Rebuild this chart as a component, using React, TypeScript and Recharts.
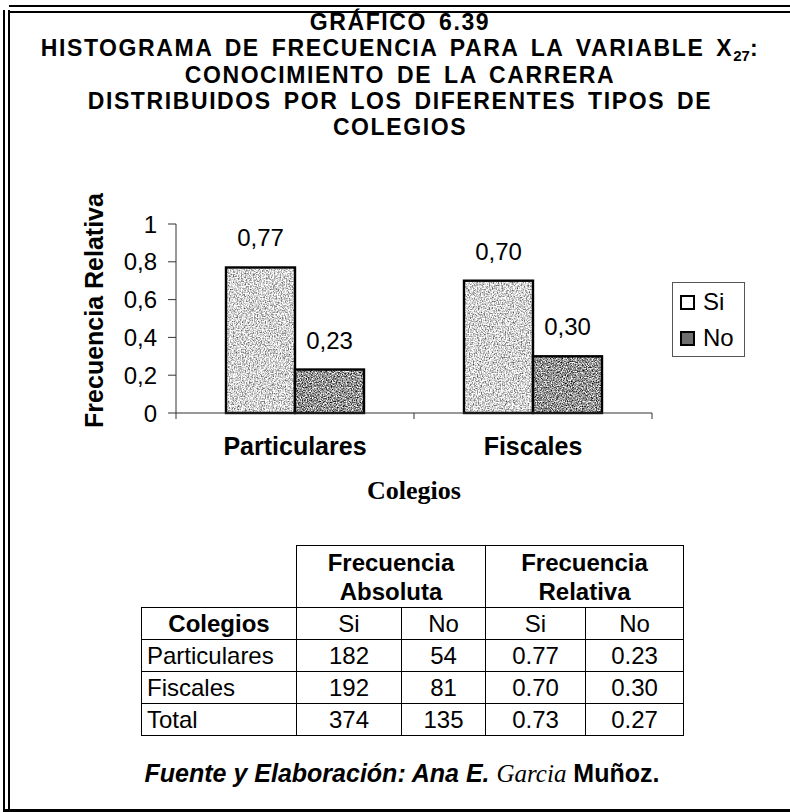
import React from 'react';
import { BarChart, Bar, XAxis, YAxis, Legend, LabelList } from 'recharts';

// chart data
const categories = ['Particulares', 'Fiscales'];
const seriesNames = ['Si', 'No'];
const siValues = [0.77, 0.7];
const noValues = [0.23, 0.3];
const yTicks = [0, 0.2, 0.4, 0.6, 0.8, 1];

// table data
const tableRows = ['Particulares', 'Fiscales', 'Total'];
const absSi = [182, 192, 374];
const absNo = [54, 81, 135];
const relSi = [0.77, 0.7, 0.73];
const relNo = [0.23, 0.3, 0.27];

const titleLines = [
  'GRÁFICO 6.39',
  'HISTOGRAMA DE FRECUENCIA PARA LA VARIABLE X',
  'CONOCIMIENTO DE LA CARRERA',
  'DISTRIBUIDOS POR LOS DIFERENTES TIPOS DE',
  'COLEGIOS',
];

const SANS = '"Liberation Sans", Arial, Helvetica, sans-serif';
const SERIF = '"Liberation Serif", "Times New Roman", serif';

const CHART_W = 790;
const CHART_H = 520;
const MARGIN = { top: 224, right: 65, bottom: 17, left: 0 };
const Y_AXIS_W = 176;
const LEGEND_W = 73;
const PLOT_W = CHART_W - MARGIN.right - LEGEND_W - Y_AXIS_W - MARGIN.left;
const BAND = PLOT_W / categories.length;

const chartData = categories.map((name, i) => ({
  name,
  Si: siValues[i],
  No: noValues[i],
}));

const comma = (v: number) => (v === 0 ? '0' : v === 1 ? '1' : String(v).replace('.', ','));
const comma2 = (v: any) => Number(v).toFixed(2).replace('.', ',');

function TexturedBar(props: any) {
  const { x, y, width, height, texture } = props;
  if (!width || !height) return null;
  return (
    <g>
      <rect x={x} y={y} width={width} height={height} filter={`url(#${texture})`} />
      <rect x={x} y={y} width={width} height={height} fill="none" stroke="#000" strokeWidth={2.4} />
    </g>
  );
}

function CategoryTick(props: any) {
  const { x, y, payload } = props;
  const last = payload.value === categories[categories.length - 1];
  return (
    <g>
      <line x1={x - BAND / 2} x2={x - BAND / 2} y1={y} y2={y + 6} stroke="#333" />
      {last && <line x1={x + BAND / 2} x2={x + BAND / 2} y1={y} y2={y + 6} stroke="#333" />}
      <text x={x} y={y + 42} textAnchor="middle" fontFamily={SANS} fontWeight="bold" fontSize={25} fill="#000">
        {payload.value}
      </text>
    </g>
  );
}

function LegendBox({ payload }: any) {
  const items = [...(payload || [])].sort(
    (a: any, b: any) => seriesNames.indexOf(a.value) - seriesNames.indexOf(b.value)
  );
  return (
    <div
      style={{
        width: LEGEND_W,
        height: 75,
        boxSizing: 'border-box',
        border: '1px solid #555',
        padding: '1px 0 0 7px',
        fontFamily: SANS,
        fontSize: 24,
        background: '#fff',
      }}
    >
      {items.map((p: any) => (
        <div key={p.value} style={{ display: 'flex', alignItems: 'center', height: 36 }}>
          <span
            style={{
              display: 'inline-block',
              width: 11,
              height: 11,
              border: '2px solid #000',
              background: p.value === 'Si' ? '#fff' : '#6f6f6f',
              marginRight: 8,
            }}
          />
          <span style={{ color: '#000' }}>{p.value}</span>
        </div>
      ))}
    </div>
  );
}

const cell = '1.5px solid #000';

export default function App() {
  return (
    <div
      style={{
        position: 'absolute',
        left: 0,
        top: 0,
        width: 790,
        height: 812,
        background: '#fff',
        overflow: 'hidden',
        fontFamily: SANS,
        color: '#000',
      }}
    >
      {/* frame */}
      <div style={{ position: 'absolute', left: 3, top: 10, width: 1.5, height: 802, background: '#000' }} />
      <div style={{ position: 'absolute', left: 8, top: 10, width: 2, height: 802, background: '#000' }} />
      <div style={{ position: 'absolute', left: 9, top: 5, width: 781, height: 2, background: '#000' }} />
      <div style={{ position: 'absolute', left: 9, top: 11, width: 781, height: 2, background: '#000' }} />
      <div style={{ position: 'absolute', left: 3, top: 809, width: 787, height: 3, background: '#000' }} />

      {/* title */}
      <div
        style={{
          position: 'absolute',
          top: 10,
          left: 0,
          width: 800,
          textAlign: 'center',
          fontWeight: 'bold',
          fontSize: 23,
          lineHeight: '25.7px',
          letterSpacing: 1.6,
          wordSpacing: 4,
        }}
      >
        {titleLines.map((t, i) => (
          <div key={i}>
            {t}
            {i === 1 && (
              <>
                <span style={{ fontSize: 15, position: 'relative', top: 5, letterSpacing: 0 }}>27</span>:
              </>
            )}
          </div>
        ))}
      </div>

      {/* chart */}
      <div style={{ position: 'absolute', left: 0, top: 0 }}>
        <BarChart width={CHART_W} height={CHART_H} data={chartData} margin={MARGIN} barGap={0} barSize={69}>
          <defs>
            <filter id="grainSi" x="0" y="0" width="1" height="1" colorInterpolationFilters="sRGB">
              <feTurbulence type="fractalNoise" baseFrequency="0.75" numOctaves={2} seed={3} />
              <feColorMatrix
                type="matrix"
                values="1.5 0 0 0 0.08  1.5 0 0 0 0.08  1.5 0 0 0 0.08  0 0 0 0 1"
              />
            </filter>
            <filter id="grainNo" x="0" y="0" width="1" height="1" colorInterpolationFilters="sRGB">
              <feTurbulence type="fractalNoise" baseFrequency="0.8" numOctaves={2} seed={7} />
              <feColorMatrix
                type="matrix"
                values="1.9 0 0 0 -0.37  1.9 0 0 0 -0.37  1.9 0 0 0 -0.37  0 0 0 0 1"
              />
            </filter>
          </defs>
          <XAxis
            dataKey="name"
            height={90}
            axisLine={{ stroke: '#333' }}
            tickLine={false}
            tickSize={0}
            tickMargin={0}
            tick={<CategoryTick />}
            interval={0}
            label={(p: any) => {
              const vb = p.viewBox || {};
              return (
                <text
                  x={vb.x + vb.width / 2}
                  y={vb.y + 86}
                  textAnchor="middle"
                  fontFamily={SERIF}
                  fontWeight="bold"
                  fontSize={26}
                  fill="#000"
                >
                  Colegios
                </text>
              );
            }}
          />
          <YAxis
            width={Y_AXIS_W}
            domain={[0, 1]}
            ticks={yTicks}
            interval={0}
            tickFormatter={comma}
            axisLine={{ stroke: '#333' }}
            tickLine={{ stroke: '#333' }}
            tickSize={8}
            tickMargin={11}
            tick={{ fill: '#000', fontSize: 24, fontFamily: SANS }}
            label={(p: any) => {
              const vb = p.viewBox || {};
              const cy = vb.y + vb.height / 2 - 8;
              return (
                <text
                  x={94}
                  y={cy}
                  transform={`rotate(-90 94 ${cy})`}
                  textAnchor="middle"
                  dominantBaseline="central"
                  fontFamily={SANS}
                  fontWeight="bold"
                  fontSize={25}
                  fill="#000"
                >
                  Frecuencia Relativa
                </text>
              );
            }}
          />
          <Legend
            layout="vertical"
            align="right"
            verticalAlign="middle"
            width={LEGEND_W}
            content={<LegendBox />}
            wrapperStyle={{ left: 672, top: 282, right: 'auto' }}
          />
          <Bar
            dataKey="Si"
            name="Si"
            fill="#d6d6d6"
            isAnimationActive={false}
            shape={(p: any) => <TexturedBar {...p} texture="grainSi" />}
          >
            <LabelList
              dataKey="Si"
              position="top"
              offset={21}
              formatter={comma2}
              fill="#000"
              fontSize={24}
              fontFamily={SANS}
            />
          </Bar>
          <Bar
            dataKey="No"
            name="No"
            fill="#8c8c8c"
            isAnimationActive={false}
            shape={(p: any) => <TexturedBar {...p} texture="grainNo" />}
          >
            <LabelList
              dataKey="No"
              position="top"
              offset={21}
              formatter={comma2}
              fill="#000"
              fontSize={24}
              fontFamily={SANS}
            />
          </Bar>
        </BarChart>
      </div>

      {/* data table */}
      <table
        style={{
          position: 'absolute',
          left: 141,
          top: 545,
          width: 542,
          borderCollapse: 'collapse',
          tableLayout: 'fixed',
          fontFamily: SANS,
          fontSize: 24,
          lineHeight: 1,
        }}
      >
        <colgroup>
          <col style={{ width: 155 }} />
          <col style={{ width: 105 }} />
          <col style={{ width: 84 }} />
          <col style={{ width: 100 }} />
          <col style={{ width: 98 }} />
        </colgroup>
        <tbody>
          <tr style={{ height: 62 }}>
            <td style={{ borderRight: cell, padding: 0 }} />
            <td colSpan={2} style={{ border: cell, padding: 0, textAlign: 'center', fontWeight: 'bold', lineHeight: '29px' }}>
              Frecuencia
              <br />
              Absoluta
            </td>
            <td colSpan={2} style={{ border: cell, padding: 0, textAlign: 'center', fontWeight: 'bold', lineHeight: '29px' }}>
              Frecuencia
              <br />
              Relativa
            </td>
          </tr>
          <tr style={{ height: 32 }}>
            <td style={{ border: cell, padding: 0, textAlign: 'center', fontWeight: 'bold' }}>Colegios</td>
            {['Si', 'No', 'Si', 'No'].map((h, i) => (
              <td key={i} style={{ border: cell, padding: 0, textAlign: 'center' }}>
                {h}
              </td>
            ))}
          </tr>
          {tableRows.map((r, i) => (
            <tr key={r} style={{ height: 32 }}>
              <td style={{ border: cell, padding: '0 0 0 5px', textAlign: 'left' }}>{r}</td>
              <td style={{ border: cell, padding: 0, textAlign: 'center' }}>{absSi[i]}</td>
              <td style={{ border: cell, padding: 0, textAlign: 'center' }}>{absNo[i]}</td>
              <td style={{ border: cell, padding: 0, textAlign: 'center' }}>{relSi[i].toFixed(2)}</td>
              <td style={{ border: cell, padding: 0, textAlign: 'center' }}>{relNo[i].toFixed(2)}</td>
            </tr>
          ))}
        </tbody>
      </table>

      {/* source */}
      <div
        style={{
          position: 'absolute',
          top: 759,
          left: 0,
          width: 804,
          textAlign: 'center',
          fontSize: 25,
          lineHeight: '28px',
        }}
      >
        <span style={{ fontWeight: 'bold', fontStyle: 'italic' }}>Fuente y Elaboración: Ana E.</span>{' '}
        <span style={{ fontFamily: SERIF, fontStyle: 'italic' }}>Garcia</span>{' '}
        <span style={{ fontWeight: 'bold' }}>Muñoz.</span>
      </div>
    </div>
  );
}
